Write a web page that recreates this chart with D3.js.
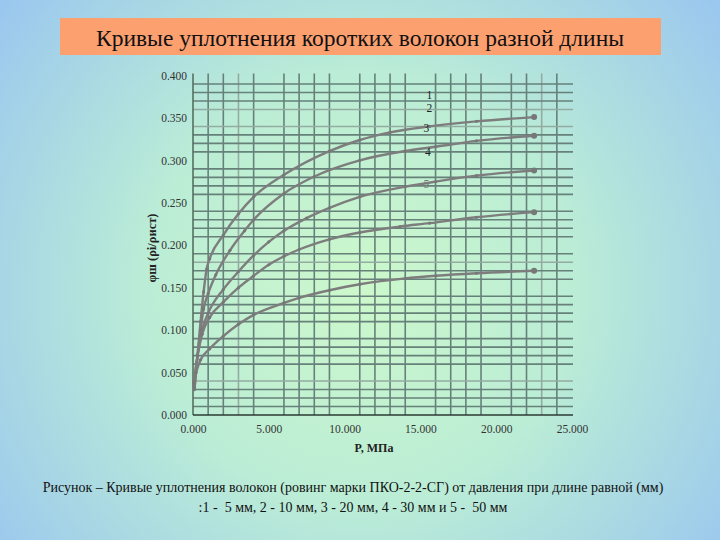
<!DOCTYPE html>
<html><head><meta charset="utf-8">
<script src="https://cdn.jsdelivr.net/npm/d3@7"></script>
<style>html,body{margin:0;padding:0;}svg{display:block;}</style>
</head><body>
<script>
// ---- data ----
const xTickValues = [0, 5, 10, 15, 20, 25];
const yTickValues = [0, 0.05, 0.10, 0.15, 0.20, 0.25, 0.30, 0.35, 0.40];
const xFaintGrid = [3, 23];
const yFaintGrid = [0.36, 0.34, 0.18, 0.04];
const curveNames = ["1", "2", "3", "4", "5"];
const curve1P = [0.1, 0.3, 0.5, 0.7, 0.9, 1.1, 2, 3, 4, 6, 9, 11, 13, 15.6, 18.7, 22.5];
const curve1V = [0.030, 0.070, 0.110, 0.145, 0.172, 0.184, 0.212, 0.237, 0.257, 0.283, 0.311, 0.324, 0.333, 0.340, 0.346, 0.351];
const curve2P = [0.1, 0.3, 0.5, 0.7, 1.0, 1.5, 2.44, 3.4, 4, 6, 8, 11, 14, 16, 18.7, 22.5];
const curve2V = [0.032, 0.070, 0.100, 0.125, 0.143, 0.165, 0.194, 0.217, 0.230, 0.261, 0.281, 0.300, 0.311, 0.316, 0.323, 0.329];
const curve3P = [0.05, 0.3, 0.6, 1.0, 2, 3, 4, 5, 6, 7.5, 9, 11, 14, 16, 18.7, 22.5];
const curve3V = [0.035, 0.070, 0.100, 0.120, 0.148, 0.169, 0.188, 0.204, 0.217, 0.232, 0.244, 0.257, 0.269, 0.275, 0.282, 0.288];
const curve4P = [0.05, 0.3, 0.6, 1.1, 2, 3, 4, 5, 6, 7, 9, 11, 13.65, 15.6, 18.7, 22.5];
const curve4V = [0.038, 0.070, 0.095, 0.115, 0.133, 0.150, 0.164, 0.177, 0.187, 0.195, 0.207, 0.215, 0.222, 0.226, 0.233, 0.239];
const curve5P = [0.05, 0.2, 0.5, 1.1, 2, 3, 4, 6, 7, 9, 11, 14, 16, 18.7, 22.5];
const curve5V = [0.040, 0.050, 0.065, 0.078, 0.093, 0.107, 0.118, 0.132, 0.138, 0.147, 0.154, 0.161, 0.164, 0.167, 0.170];
const labelPos = [[15.6, 0.372], [15.6, 0.357], [15.4, 0.334], [15.5, 0.305], [15.4, 0.268]];
const titleText = "Кривые уплотнения коротких волокон разной длины";
const xTitle = "P, МПа";
const yTitle = "φш (ρi/ρист)";
const caption1 = "Рисунок – Кривые уплотнения волокон (ровинг марки ПКО-2-2-СГ) от давления при длине равной (мм)";
const caption2 = ":1 -  5 мм, 2 - 10 мм, 3 - 20 мм, 4 - 30 мм и 5 -  50 мм";

const W = 720, H = 540;
const svg = d3.select("body").append("svg").attr("width", W).attr("height", H);
const defs = svg.append("defs");
const rg = defs.append("radialGradient").attr("id", "bg").attr("gradientUnits", "userSpaceOnUse")
  .attr("cx", 360).attr("cy", 290).attr("r", 470);
rg.append("stop").attr("offset", "0").attr("stop-color", "#cdf8cb");
rg.append("stop").attr("offset", "0.45").attr("stop-color", "#bbedd6");
rg.append("stop").attr("offset", "1").attr("stop-color", "#99c5f0");
svg.append("rect").attr("width", W).attr("height", H).attr("fill", "url(#bg)");

// title box
svg.append("rect").attr("x", 60).attr("y", 18).attr("width", 601).attr("height", 37).attr("fill", "#fda070");
svg.append("text").attr("x", 360).attr("y", 46).attr("text-anchor", "middle")
  .attr("font-family", "Liberation Serif, serif").attr("font-size", 23.5).attr("fill", "#111").text(titleText);

const x = d3.scaleLinear().domain([0, 25]).range([193, 572]);
const y = d3.scaleLinear().domain([0, 0.4]).range([415, 75.5]);

// grid
const g = svg.append("g");
const xGrid = d3.range(1, 25).filter(v => v % 5 !== 0);
const yGrid = d3.range(1, 40).filter(v => v % 5 !== 0).map(v => v / 100);
g.selectAll("line.vg").data(xGrid).join("line").attr("class", "vg")
  .attr("x1", d => x(d)).attr("x2", d => x(d)).attr("y1", y(0.4) - 2).attr("y2", y(0))
  .attr("stroke", d => xFaintGrid.includes(d) ? "#93aba0" : "#66807a").attr("stroke-width", 1.6);
g.selectAll("line.hg").data(yGrid).join("line").attr("class", "hg")
  .attr("x1", x(0)).attr("x2", x(25) + 1).attr("y1", d => y(d)).attr("y2", d => y(d))
  .attr("stroke", d => yFaintGrid.some(f => Math.abs(f - d) < 1e-6) ? "#93aba0" : "#66807a").attr("stroke-width", 1.6);
// axis lines
g.append("line").attr("x1", x(0)).attr("x2", x(0)).attr("y1", y(0.4) - 2).attr("y2", y(0)).attr("stroke", "#55705f").attr("stroke-width", 1.6);
g.append("line").attr("x1", x(0)).attr("x2", x(25) + 1).attr("y1", y(0)).attr("y2", y(0)).attr("stroke", "#2c3a33").attr("stroke-width", 1.6);

// axes (labels only)
const fmt = d3.format(".3f");
const xa = svg.append("g").attr("transform", `translate(0,${y(0)})`)
  .call(d3.axisBottom(x).tickValues(xTickValues).tickSize(0).tickPadding(10).tickFormat(fmt));
const ya = svg.append("g").attr("transform", `translate(${x(0)},0)`)
  .call(d3.axisLeft(y).tickValues(yTickValues).tickSize(0).tickPadding(6).tickFormat(fmt));
[xa, ya].forEach(a => {
  a.select(".domain").remove();
  a.selectAll("text").attr("font-family", "Liberation Serif, serif").attr("font-size", 11.5).attr("fill", "#333");
});

// curves
const line = d3.line().x(d => x(d[0])).y(d => y(d[1])).curve(d3.curveMonotoneX);
const curves = [[curve1P, curve1V], [curve2P, curve2V], [curve3P, curve3V], [curve4P, curve4V], [curve5P, curve5V]]
  .map(([p, v]) => p.map((pp, i) => [pp, v[i]]));
const cg = svg.append("g");
curves.forEach((pts, k) => {
  cg.append("path").attr("d", line(pts)).attr("fill", "none").attr("stroke", "#7d7d7d").attr("stroke-width", 2.4);
  cg.selectAll(null).data(pts).join("circle")
    .attr("cx", d => x(d[0])).attr("cy", d => y(d[1]))
    .attr("r", (d, i) => i === pts.length - 1 ? 3 : 1.6).attr("fill", "#777");
});
// curve labels
svg.selectAll("text.cl").data(curveNames).join("text").attr("class", "cl")
  .attr("x", (d, i) => x(labelPos[i][0])).attr("y", (d, i) => y(labelPos[i][1]))
  .attr("text-anchor", "middle").attr("font-family", "Liberation Serif, serif").attr("font-size", 11.5)
  .attr("fill", (d, i) => i === 4 ? "#777" : "#222").text(d => d);

// axis titles
svg.append("text").attr("x", 374).attr("y", 452).attr("text-anchor", "middle")
  .attr("font-family", "Liberation Serif, serif").attr("font-size", 12).attr("font-weight", "bold").attr("fill", "#222").text(xTitle);
svg.append("text").attr("transform", "translate(156,248) rotate(-90)").attr("text-anchor", "middle")
  .attr("font-family", "Liberation Serif, serif").attr("font-size", 12.5).attr("font-weight", "bold").attr("fill", "#222").text(yTitle);

// caption
svg.append("text").attr("x", 353).attr("y", 492).attr("text-anchor", "middle")
  .attr("font-family", "Liberation Serif, serif").attr("font-size", 14).attr("fill", "#111").text(caption1);
svg.append("text").attr("x", 353).attr("y", 512).attr("text-anchor", "middle")
  .attr("font-family", "Liberation Serif, serif").attr("font-size", 14).attr("fill", "#111")
  .style("white-space", "pre").text(caption2);
</script>
</body></html>
